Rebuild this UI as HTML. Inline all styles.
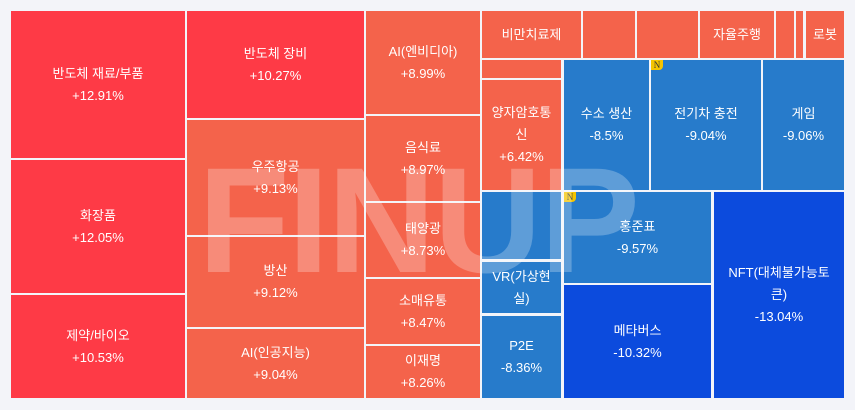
<!DOCTYPE html>
<html><head><meta charset="utf-8"><style>
body{margin:0;width:855px;height:410px;background:#f3f4f9;position:relative;overflow:hidden;font-family:"Liberation Sans","Noto Sans CJK KR",sans-serif}
.c{position:absolute;display:flex;flex-direction:column;align-items:center;justify-content:center;color:#fff;font-size:13px;line-height:22px;text-align:center;box-sizing:border-box}
.r{background:#fe3a46}.o{background:#f4634b}.b{background:#277bcb}.d{background:#0c4bdd}
.n{position:absolute;width:12px;height:10px;background:#f5c400;color:#333;font-size:9px;line-height:10px;text-align:center;font-family:"Liberation Serif",serif;border-bottom-right-radius:4px}
.wm{position:absolute;left:198px;top:145px;font-size:150px;font-weight:bold;color:rgba(255,255,255,0.26);letter-spacing:-2px;line-height:150px;font-family:"Liberation Sans",sans-serif}
</style></head><body>
<div class="c r" style="left:11px;top:11px;width:174px;height:147px">반도체 재료/부품<br>+12.91%</div>
<div class="c r" style="left:11px;top:160px;width:174px;height:133px">화장품<br>+12.05%</div>
<div class="c r" style="left:11px;top:295px;width:174px;height:103px">제약/바이오<br>+10.53%</div>
<div class="c r" style="left:187px;top:11px;width:177px;height:107px">반도체 장비<br>+10.27%</div>
<div class="c o" style="left:187px;top:120px;width:177px;height:115px">우주항공<br>+9.13%</div>
<div class="c o" style="left:187px;top:237px;width:177px;height:90px">방산<br>+9.12%</div>
<div class="c o" style="left:187px;top:329px;width:177px;height:69px">AI(인공지능)<br>+9.04%</div>
<div class="c o" style="left:366px;top:11px;width:114px;height:103px">AI(엔비디아)<br>+8.99%</div>
<div class="c o" style="left:366px;top:116px;width:114px;height:85px">음식료<br>+8.97%</div>
<div class="c o" style="left:366px;top:203px;width:114px;height:74px">태양광<br>+8.73%</div>
<div class="c o" style="left:366px;top:279px;width:114px;height:65px">소매유통<br>+8.47%</div>
<div class="c o" style="left:366px;top:346px;width:114px;height:52px">이재명<br>+8.26%</div>
<div class="c o" style="left:482px;top:11px;width:99px;height:47px">비만치료제</div>
<div class="c o" style="left:583px;top:11px;width:52px;height:47px"></div>
<div class="c o" style="left:637px;top:11px;width:61px;height:47px"></div>
<div class="c o" style="left:700px;top:11px;width:74px;height:47px">자율주행</div>
<div class="c o" style="left:776px;top:11px;width:18px;height:47px"></div>
<div class="c o" style="left:796px;top:11px;width:7px;height:47px"></div>
<div class="c o" style="left:806px;top:11px;width:38px;height:47px">로봇</div>
<div class="c o" style="left:482px;top:60px;width:79px;height:18px"></div>
<div class="c o" style="left:482px;top:80px;width:79px;height:110px">양자암호통<br>신<br>+6.42%</div>
<div class="c b" style="left:564px;top:60px;width:85px;height:130px">수소 생산<br>-8.5%</div>
<div class="c b" style="left:651px;top:60px;width:110px;height:130px">전기차 충전<br>-9.04%</div>
<div class="n" style="left:651px;top:60px">N</div>
<div class="c b" style="left:763px;top:60px;width:81px;height:130px">게임<br>-9.06%</div>
<div class="c b" style="left:482px;top:192px;width:79px;height:67px"></div>
<div class="c b" style="left:482px;top:262px;width:79px;height:51px">VR(가상현<br>실)</div>
<div class="c b" style="left:482px;top:316px;width:79px;height:82px">P2E<br>-8.36%</div>
<div class="c b" style="left:564px;top:192px;width:147px;height:91px">홍준표<br>-9.57%</div>
<div class="n" style="left:564px;top:192px">N</div>
<div class="c d" style="left:564px;top:285px;width:147px;height:113px">메타버스<br>-10.32%</div>
<div class="c d" style="left:714px;top:192px;width:130px;height:206px">NFT(대체불가능토<br>큰)<br>-13.04%</div>
<div class="wm">FINUP</div>
</body></html>
